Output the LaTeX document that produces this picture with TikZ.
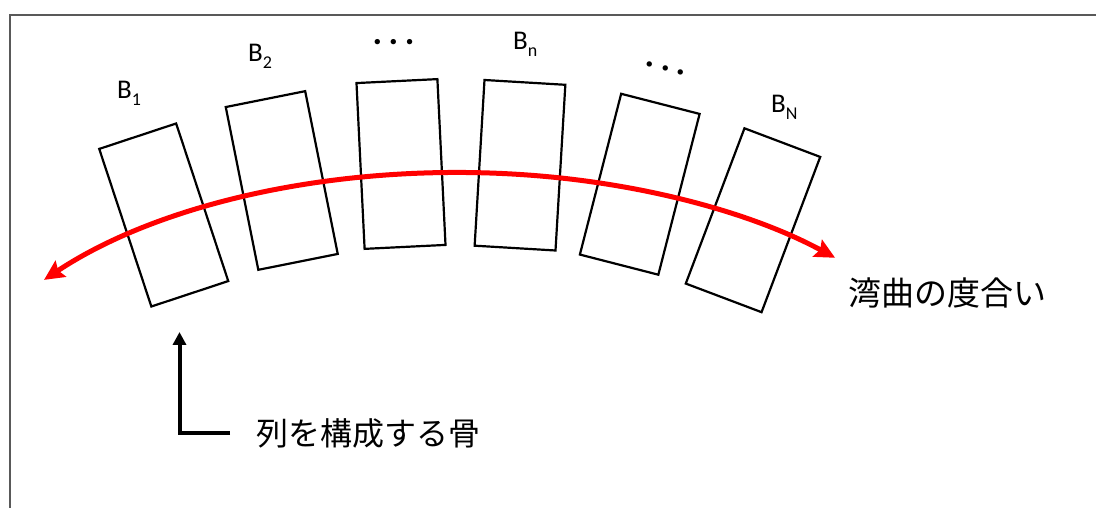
\documentclass[tikz,border=0pt]{standalone}
\usepackage{fontspec}
\setmainfont{Carlito}
\newfontfamily\jpfont{Noto Sans CJK JP}
\usetikzlibrary{arrows.meta}
\newcommand{\bsub}[1]{B\raisebox{-6.7pt}{\fontsize{18}{20}\selectfont #1}}
\begin{document}
\begin{tikzpicture}[x=1pt,y=1pt,
  bone/.style={draw, line width=2.2pt, minimum width=81pt, minimum height=166pt, inner sep=0pt},
  blabel/.style={anchor=base west, inner sep=0pt, font=\fontsize{27}{32}\selectfont},
  jplabel/.style={anchor=west, inner sep=0pt},
  dotlabel/.style={anchor=base, inner sep=0pt, font=\bfseries\fontsize{36}{40}\selectfont},
  bendarrow/.style={red, line width=5pt, line cap=butt,
    {Stealth[length=20pt,width=19pt,inset=3pt]}-{Stealth[length=20pt,width=19pt,inset=3pt]}},
  pointer/.style={line width=4pt, -{Triangle[length=13pt,width=13pt]}},
  frame/.style={draw=black!65, line width=2pt}]
\path[use as bounding box] (0,0) rectangle (1096,508);
\clip (0,0) rectangle (1096,508);
% frame (cut off at right and bottom)
\draw[frame] (10,-10) -- (10,493) -- (1110,493);

% bones
\node[bone, rotate=18.3]  (b1) at (163.75,293) {};
\node[bone, rotate=11.3]  (b2) at (281.75,327.5) {};
\node[bone, rotate=2.8]   (b3) at (401,344) {};
\node[bone, rotate=-3.4]  (b4) at (520,342.75) {};
\node[bone, rotate=-14.4] (b5) at (639.75,323.75) {};
\node[bone, rotate=-20.7] (b6) at (753,287.75) {};

% labels
\node[blabel] (l1) at (117,409) {\bsub{1}};
\node[blabel] (l2) at (248,446) {\bsub{2}};
\node[dotlabel] (d1) at (393.5,463) {.\hspace{6.5pt}.\hspace{6.5pt}.};
\node[blabel] (ln) at (513,458) {\bsub{n}};
\node[dotlabel, rotate=-15] (d2) at (665,437.5) {.\hspace{6.5pt}.\hspace{6.5pt}.};
\node[blabel] (lN) at (771,395) {\bsub{N}};

% bending curve (elliptical arc)
\coordinate (ec) at (458,35.5);
\coordinate (cstart) at ([shift={(140.06:540 and 300)}]ec);
\draw[bendarrow] (cstart) arc[start angle=140.06, end angle=45.7, x radius=540, y radius=300];
\node[jplabel, font=\jpfont\fontsize{33}{40}\selectfont] (bendlbl) at (848,215) {湾曲の度合い};

% pointer to bones
\node[jplabel, font=\jpfont\fontsize{32}{38}\selectfont] (bonelbl) at (256,75) {列を構成する骨};
\coordinate (ptip) at (179.5,176);
\draw[pointer] ([xshift=-26pt]bonelbl.west) -| (ptip);
\end{tikzpicture}
\end{document}
